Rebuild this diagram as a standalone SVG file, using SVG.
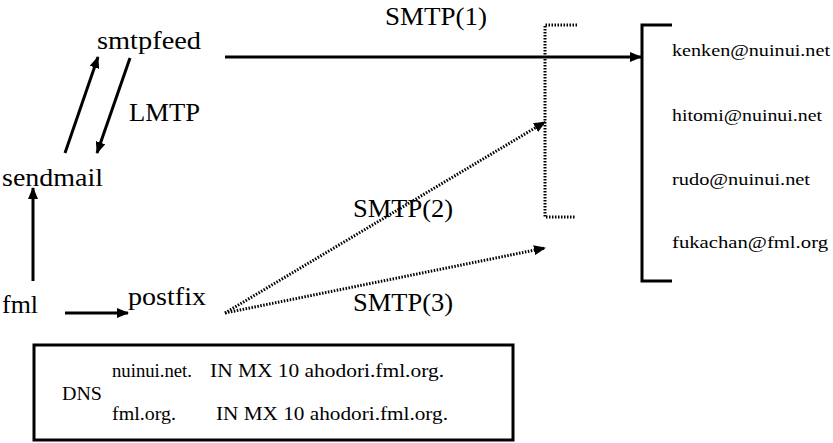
<svg xmlns="http://www.w3.org/2000/svg" width="833" height="443" viewBox="0 0 833 443">
<style>
text{font-family:"Liberation Serif","DejaVu Serif","Times New Roman",serif;fill:#000}
.lbl{font-size:25px}
.em{font-size:17px}
.dns{font-size:18px}
.ln{stroke:#000;stroke-width:3;fill:none}
.dot{stroke:#000;stroke-width:3;fill:none;stroke-dasharray:1.5 1.5}
</style>
<defs>
<marker id="ah" markerUnits="userSpaceOnUse" markerWidth="12" markerHeight="10" refX="11" refY="5" orient="auto">
<path d="M0,0 L12,5 L0,10 z" fill="#000"/>
</marker>
</defs>
<rect width="833" height="443" fill="#fff"/>
<g id="connectors">
<line class="ln" x1="225" y1="57" x2="641" y2="57" marker-end="url(#ah)"/>
<line class="ln" x1="65" y1="153" x2="98" y2="57" marker-end="url(#ah)"/>
<line class="ln" x1="130" y1="58" x2="97" y2="153" marker-end="url(#ah)"/>
<line class="ln" x1="33" y1="281" x2="33" y2="188" marker-end="url(#ah)"/>
<line class="ln" x1="65" y1="313" x2="128" y2="313" marker-end="url(#ah)"/>
<line class="dot" x1="225" y1="313" x2="545" y2="122" marker-end="url(#ah)"/>
<line class="dot" x1="225" y1="313" x2="545" y2="248" marker-end="url(#ah)"/>
</g>
<g id="smtpfeed"><text class="lbl" x="97" y="49" font-family="Liberation Serif, serif" textLength="104" lengthAdjust="spacingAndGlyphs">smtpfeed</text></g>
<g id="sendmail"><text class="lbl" x="2" y="186" font-family="Liberation Serif, serif" textLength="101" lengthAdjust="spacingAndGlyphs">sendmail</text></g>
<g id="fml"><text class="lbl" x="2" y="313" font-family="Liberation Serif, serif" textLength="36" lengthAdjust="spacingAndGlyphs">fml</text></g>
<g id="postfix"><text class="lbl" x="128" y="305" font-family="Liberation Serif, serif" textLength="78" lengthAdjust="spacingAndGlyphs">postfix</text></g>
<g id="labels" font-family="Liberation Serif, serif">
<text class="lbl" x="129" y="121" textLength="71" lengthAdjust="spacingAndGlyphs">LMTP</text>
<text class="lbl" x="385" y="25" textLength="102" lengthAdjust="spacingAndGlyphs">SMTP(1)</text>
<text class="lbl" x="353" y="217" textLength="100" lengthAdjust="spacingAndGlyphs">SMTP(2)</text>
<text class="lbl" x="353" y="311" textLength="100" lengthAdjust="spacingAndGlyphs">SMTP(3)</text>
</g>
<g id="relay">
<polyline class="dot" points="577,25 545,25 545,217 575,217"/>
</g>
<g id="recipients" font-family="Liberation Serif, serif">
<polyline class="ln" points="672,25 642,25 642,281 672,281"/>
<text class="em" x="672" y="56" textLength="158" lengthAdjust="spacingAndGlyphs">kenken@nuinui.net</text>
<text class="em" x="672" y="121" textLength="150" lengthAdjust="spacingAndGlyphs">hitomi@nuinui.net</text>
<text class="em" x="672" y="185" textLength="138" lengthAdjust="spacingAndGlyphs">rudo@nuinui.net</text>
<text class="em" x="672" y="248" textLength="156" lengthAdjust="spacingAndGlyphs">fukachan@fml.org</text>
</g>
<g id="dns" font-family="Liberation Serif, serif">
<rect x="34" y="345" width="479" height="95" fill="none" stroke="#000" stroke-width="3"/>
<text class="dns" x="62" y="400" textLength="40" lengthAdjust="spacingAndGlyphs">DNS</text>
<text class="dns" x="112" y="377" textLength="80" lengthAdjust="spacingAndGlyphs">nuinui.net.</text>
<text class="dns" x="210" y="377" textLength="234" lengthAdjust="spacingAndGlyphs">IN MX 10 ahodori.fml.org.</text>
<text class="dns" x="112" y="420" textLength="64" lengthAdjust="spacingAndGlyphs">fml.org.</text>
<text class="dns" x="216" y="420" textLength="232" lengthAdjust="spacingAndGlyphs">IN MX 10 ahodori.fml.org.</text>
</g>
</svg>
